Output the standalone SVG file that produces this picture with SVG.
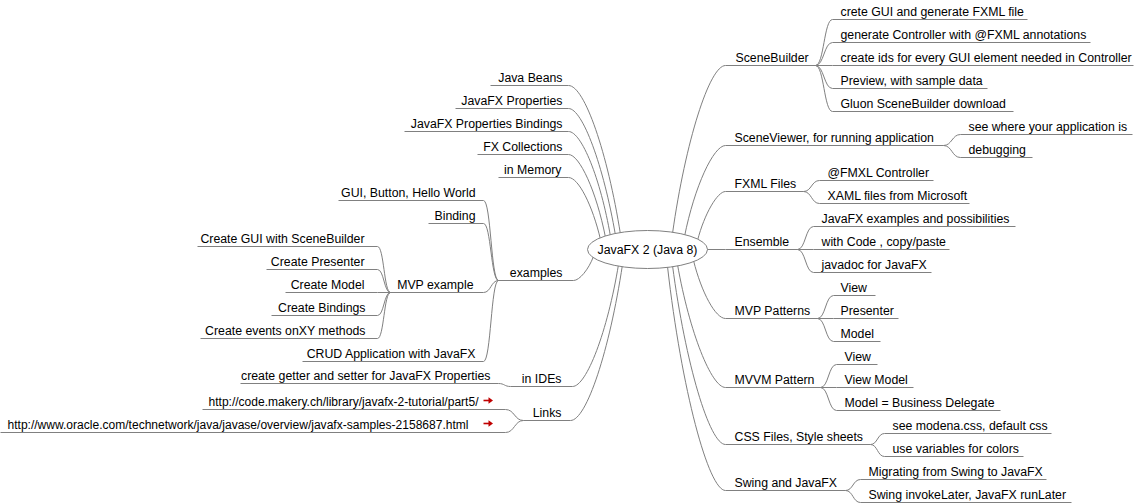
<svg xmlns="http://www.w3.org/2000/svg" xmlns:xlink="http://www.w3.org/1999/xlink" width="1135" height="503" viewBox="0 0 1135 503">
<style>
.c{fill:none;stroke:#808080;stroke-width:1}
.u{stroke:#808080;stroke-width:1}
text{font-family:"Liberation Sans",Arial,sans-serif;font-size:12.3px;fill:#000}
.e{text-anchor:end}
.m{text-anchor:middle}
.url{font-size:12px}
</style>
<defs>
<g id="arrow"><path d="M0,0 H6" stroke="#c00000" stroke-width="1.6"/><path d="M5,-3.2 L9.5,0 L5,3.2 Z" fill="#c00000"/></g>
</defs>
<rect width="1135" height="503" fill="#fff"/>
<g transform="translate(0.5,0.5)">
<g id="connectors">
<path class="c" d="M620,234 C607,152 584,85 568,85"/>
<path class="c" d="M615,235 C603,165 582,108 568,108"/>
<path class="c" d="M610,236 C600,178 581,131 568,131"/>
<path class="c" d="M605,237 C596,191 579,154 568,154"/>
<path class="c" d="M600,239 C592,205 578,177 568,177"/>
<path class="c" d="M593,256 C588,269 579,280 573,280"/>
<path class="c" d="M618,264 C607,331 586,386 572,386"/>
<path class="c" d="M622,264 C609,350 586,420 570,420"/>
<path class="c" d="M672,233 C685,141 709,65 725,65"/>
<path class="c" d="M684,236 C694,186 713,145 725,145"/>
<path class="c" d="M697,240 C704,213 717,191 725,191"/>
<path class="c" d="M705,249 H725"/>
<path class="c" d="M693,260 C701,292 715,318 725,318"/>
<path class="c" d="M677,264 C689,332 711,387 725,387"/>
<path class="c" d="M672,265 C685,363 709,444 725,444"/>
<path class="c" d="M667,266 C681,389 708,490 725,490"/>
<path class="c" d="M815,65 C823.5,65 823.5,19 832,19"/>
<path class="c" d="M815,65 C823.5,65 823.5,42 832,42"/>
<path class="c" d="M815,65 H832"/>
<path class="c" d="M815,65 C823.5,65 823.5,88 832,88"/>
<path class="c" d="M815,65 C823.5,65 823.5,111 832,111"/>
<path class="c" d="M943,145 C951.5,145 951.5,134 960,134"/>
<path class="c" d="M943,145 C951.5,145 951.5,157 960,157"/>
<path class="c" d="M803,191 C811,191 811,180 819,180"/>
<path class="c" d="M803,191 C811,191 811,203 819,203"/>
<path class="c" d="M797,249 C805,249 805,226 813,226"/>
<path class="c" d="M797,249 H813"/>
<path class="c" d="M797,249 C805,249 805,272 813,272"/>
<path class="c" d="M817,318 C825,318 825,295 833,295"/>
<path class="c" d="M817,318 H833"/>
<path class="c" d="M817,318 C825,318 825,341 833,341"/>
<path class="c" d="M820,387 C828,387 828,364 836,364"/>
<path class="c" d="M820,387 H836"/>
<path class="c" d="M820,387 C828,387 828,410 836,410"/>
<path class="c" d="M870,444 C877,444 877,433 884,433"/>
<path class="c" d="M870,444 C877,444 877,456 884,456"/>
<path class="c" d="M845,490 C852.5,490 852.5,479 860,479"/>
<path class="c" d="M845,490 C852.5,490 852.5,502 860,502"/>
<path class="c" d="M498,280 C490.5,280 490.5,200 483,200"/>
<path class="c" d="M498,280 C490.5,280 490.5,223 483,223"/>
<path class="c" d="M498,280 C490.5,280 490.5,292 483,292"/>
<path class="c" d="M498,280 C490.5,280 490.5,361 483,361"/>
<path class="c" d="M390,292 C383.5,292 383.5,246 377,246"/>
<path class="c" d="M390,292 C383.5,292 383.5,269 377,269"/>
<path class="c" d="M390,292 H377"/>
<path class="c" d="M390,292 C383.5,292 383.5,315 377,315"/>
<path class="c" d="M390,292 C383.5,292 383.5,338 377,338"/>
<path class="c" d="M510,386 C504,386 504,383 498,383"/>
<path class="c" d="M523,420 C514,420 514,409 505,409"/>
<path class="c" d="M523,420 C514,420 514,432 505,432"/>
</g>
<g id="root"><ellipse cx="647" cy="249" rx="60" ry="19" fill="#fff" stroke="#808080"/><text class="m" x="647" y="253">JavaFX 2 (Java 8)</text></g>
<g id="n-javabeans"><line class="u" x1="490" y1="85" x2="568" y2="85"/><text class="e" x="562" y="81">Java Beans</text></g>
<g id="n-javafxprops"><line class="u" x1="455" y1="108" x2="568" y2="108"/><text class="e" x="562" y="104">JavaFX Properties</text></g>
<g id="n-javafxbind"><line class="u" x1="404" y1="131" x2="568" y2="131"/><text class="e" x="562" y="127">JavaFX Properties Bindings</text></g>
<g id="n-fxcoll"><line class="u" x1="477" y1="154" x2="568" y2="154"/><text class="e" x="562" y="150">FX Collections</text></g>
<g id="n-inmemory"><line class="u" x1="498" y1="177" x2="568" y2="177"/><text class="e" x="561" y="173">in Memory</text></g>
<g id="n-examples"><line class="u" x1="498" y1="280" x2="573" y2="280"/><text class="e" x="562" y="276">examples</text></g>
<g id="n-gui"><line class="u" x1="338" y1="200" x2="483" y2="200"/><text class="e" x="475" y="196">GUI, Button, Hello World</text></g>
<g id="n-binding"><line class="u" x1="428" y1="223" x2="483" y2="223"/><text class="e" x="475" y="219">Binding</text></g>
<g id="n-mvpexample"><line class="u" x1="390" y1="292" x2="483" y2="292"/><text class="e" x="473" y="288">MVP example</text></g>
<g id="n-crud"><line class="u" x1="302" y1="361" x2="483" y2="361"/><text class="e" x="475" y="357">CRUD Application with JavaFX</text></g>
<g id="n-mvp1"><line class="u" x1="197" y1="246" x2="377" y2="246"/><text class="e" x="364" y="242">Create GUI with SceneBuilder</text></g>
<g id="n-mvp2"><line class="u" x1="266" y1="269" x2="377" y2="269"/><text class="e" x="364" y="265">Create Presenter</text></g>
<g id="n-mvp3"><line class="u" x1="285" y1="292" x2="377" y2="292"/><text class="e" x="364" y="288">Create Model</text></g>
<g id="n-mvp4"><line class="u" x1="271" y1="315" x2="377" y2="315"/><text class="e" x="365" y="311">Create Bindings</text></g>
<g id="n-mvp5"><line class="u" x1="200" y1="338" x2="377" y2="338"/><text class="e" x="365" y="334">Create events onXY methods</text></g>
<g id="n-ides"><line class="u" x1="510" y1="386" x2="572" y2="386"/><text class="e" x="561" y="382">in IDEs</text></g>
<g id="n-getter"><line class="u" x1="240" y1="383" x2="498" y2="383"/><text class="e" x="490" y="379">create getter and setter for JavaFX Properties</text></g>
<g id="n-links"><line class="u" x1="523" y1="420" x2="570" y2="420"/><text class="e" x="561" y="416">Links</text></g>
<g id="n-link1"><line class="u" x1="202" y1="409" x2="505" y2="409"/><text class="url" x="208" y="405" textLength="270" lengthAdjust="spacingAndGlyphs">http://code.makery.ch/library/javafx-2-tutorial/part5/</text><use xlink:href="#arrow" x="483" y="400"/></g>
<g id="n-link2"><line class="u" x1="0" y1="432" x2="505" y2="432"/><text class="url" x="7" y="428" textLength="461" lengthAdjust="spacingAndGlyphs">http://www.oracle.com/technetwork/java/javase/overview/javafx-samples-2158687.html</text><use xlink:href="#arrow" x="483" y="423"/></g>
<g id="n-scenebuilder"><line class="u" x1="725" y1="65" x2="815" y2="65"/><text x="735" y="61">SceneBuilder</text></g>
<g id="n-sb1"><line class="u" x1="832" y1="19" x2="1027" y2="19"/><text x="840" y="15">crete GUI and generate FXML file</text></g>
<g id="n-sb2"><line class="u" x1="832" y1="42" x2="1090" y2="42"/><text x="840" y="38">generate Controller with @FXML annotations</text></g>
<g id="n-sb3"><line class="u" x1="832" y1="65" x2="1133" y2="65"/><text x="840" y="61">create ids for every GUI element needed in Controller</text></g>
<g id="n-sb4"><line class="u" x1="832" y1="88" x2="987" y2="88"/><text x="840" y="84">Preview, with sample data</text></g>
<g id="n-sb5"><line class="u" x1="832" y1="111" x2="1013" y2="111"/><text x="840" y="107">Gluon SceneBuilder download</text></g>
<g id="n-sceneviewer"><line class="u" x1="725" y1="145" x2="943" y2="145"/><text x="734" y="141">SceneViewer, for running application</text></g>
<g id="n-sv1"><line class="u" x1="960" y1="134" x2="1132" y2="134"/><text x="968" y="130">see where your application is</text></g>
<g id="n-sv2"><line class="u" x1="960" y1="157" x2="1032" y2="157"/><text x="968" y="153">debugging</text></g>
<g id="n-fxml"><line class="u" x1="725" y1="191" x2="803" y2="191"/><text x="734" y="187">FXML Files</text></g>
<g id="n-fx1"><line class="u" x1="819" y1="180" x2="933" y2="180"/><text x="827" y="176">@FMXL Controller</text></g>
<g id="n-fx2"><line class="u" x1="819" y1="203" x2="969" y2="203"/><text x="827" y="199">XAML files from Microsoft</text></g>
<g id="n-ensemble"><line class="u" x1="725" y1="249" x2="797" y2="249"/><text x="734" y="245">Ensemble</text></g>
<g id="n-en1"><line class="u" x1="813" y1="226" x2="1015" y2="226"/><text x="821" y="222">JavaFX examples and possibilities</text></g>
<g id="n-en2"><line class="u" x1="813" y1="249" x2="949" y2="249"/><text x="821" y="245">with Code , copy/paste</text></g>
<g id="n-en3"><line class="u" x1="813" y1="272" x2="931" y2="272"/><text x="821" y="268">javadoc for JavaFX</text></g>
<g id="n-mvp"><line class="u" x1="725" y1="318" x2="817" y2="318"/><text x="734" y="314">MVP Patterns</text></g>
<g id="n-mv1"><line class="u" x1="833" y1="295" x2="875" y2="295"/><text x="840" y="291">View</text></g>
<g id="n-mv2"><line class="u" x1="833" y1="318" x2="898" y2="318"/><text x="840" y="314">Presenter</text></g>
<g id="n-mv3"><line class="u" x1="833" y1="341" x2="880" y2="341"/><text x="840" y="337">Model</text></g>
<g id="n-mvvm"><line class="u" x1="725" y1="387" x2="820" y2="387"/><text x="734" y="383">MVVM Pattern</text></g>
<g id="n-vm1"><line class="u" x1="836" y1="364" x2="877" y2="364"/><text x="844" y="360">View</text></g>
<g id="n-vm2"><line class="u" x1="836" y1="387" x2="913" y2="387"/><text x="844" y="383">View Model</text></g>
<g id="n-vm3"><line class="u" x1="836" y1="410" x2="1000" y2="410"/><text x="844" y="406">Model = Business Delegate</text></g>
<g id="n-css"><line class="u" x1="725" y1="444" x2="870" y2="444"/><text x="734" y="440">CSS Files, Style sheets</text></g>
<g id="n-css1"><line class="u" x1="884" y1="433" x2="1051" y2="433"/><text x="892" y="429">see modena.css, default css</text></g>
<g id="n-css2"><line class="u" x1="884" y1="456" x2="1023" y2="456"/><text x="892" y="452">use variables for colors</text></g>
<g id="n-swing"><line class="u" x1="725" y1="490" x2="845" y2="490"/><text x="734" y="486">Swing and JavaFX</text></g>
<g id="n-sw1"><line class="u" x1="860" y1="479" x2="1046" y2="479"/><text x="868" y="475">Migrating from Swing to JavaFX</text></g>
<g id="n-sw2"><line class="u" x1="860" y1="502" x2="1071" y2="502"/><text x="868" y="498">Swing invokeLater, JavaFX runLater</text></g>
</g>
</svg>
